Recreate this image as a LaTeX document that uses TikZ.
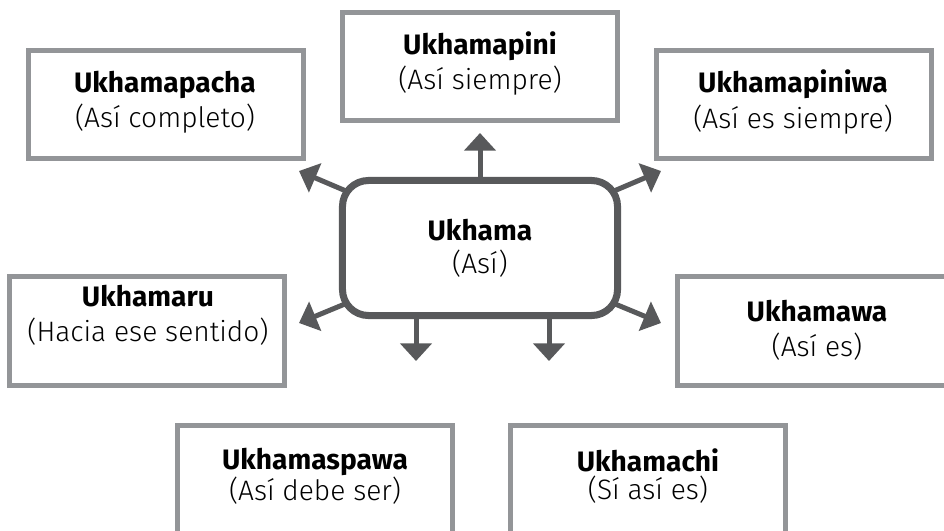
\documentclass[tikz,border=0pt]{standalone}
\usepackage{fontspec}
\setmainfont{Fira Sans}
\newfontfamily\lightfont{Fira Sans Light}
\usetikzlibrary{arrows.meta,backgrounds}
\definecolor{boxgray}{HTML}{939598}
\definecolor{hubgray}{HTML}{58595B}

\begin{document}
\begin{tikzpicture}[x=0.025cm, y=-0.025cm,
    wordbox/.style={draw=boxgray, line width=3.56pt, fill=white,
        minimum width=6.875cm, minimum height=2.7cm, inner sep=0pt},
    hub/.style={draw=hubgray, line width=5pt, fill=white, rounded corners=0.65cm,
        minimum width=6.875cm, minimum height=3.375cm, align=center,
        font=\fontsize{20}{23.5}\selectfont},
    wordtext/.style={align=center, inner sep=0pt, font=\fontsize{20}{25}\selectfont},
    lowtext/.style={wordtext, font=\fontsize{20}{19.5}\selectfont},
    spoke/.style={draw=hubgray, line width=3.56pt,
        -{Triangle[length=12.5pt, width=22pt]}}]

    \useasboundingbox (0,0) rectangle (944,531);
    \clip (0,0) rectangle (944,531);

    % Outer boxes
    \node[wordbox] (pacha) at (166,104.5) {};
    \node[wordbox] (pini) at (480,66.5) {};
    \node[wordbox] (piniwa) at (794,104.5) {};
    \node[wordbox] (maru) at (147,331) {};
    \node[wordbox] (mawa) at (815,331) {};
    \node[wordbox] (spawa) at (315,479.5) {};
    \node[wordbox] (machi) at (648,479.5) {};

    % Words and meanings
    \node[wordtext] (pacha-t) at (165,102) {\textbf{Ukhamapacha}\\{\lightfont (Así completo)}};
    \node[wordtext] (pini-t) at (480,63.5) {\textbf{Ukhamapini}\\{\lightfont (Así siempre)}};
    \node[wordtext] (piniwa-t) at (793,102) {\textbf{Ukhamapiniwa}\\{\lightfont (Así es siempre)}};
    \node[wordtext] (maru-t) at (148,315) {\textbf{Ukhamaru}\\{\lightfont (Hacia ese sentido)}};
    \node[wordtext] (mawa-t) at (817,330.5) {\textbf{Ukhamawa}\\{\lightfont (Así es)}};
    \node[lowtext] (spawa-t) at (315,476) {\textbf{Ukhamaspawa}\\{\lightfont (Así debe ser)}};
    \node[lowtext] (machi-t) at (648,476) {\textbf{Ukhamachi}\\{\lightfont (Sí así es)}};

    % Central word
    \node[hub] (hub) at (480,248) {\textbf{Ukhama}\\{\lightfont (Así)}};

    % Arrow ends
    \coordinate (tipN) at (480,133);
    \coordinate (tipNW) at (299,171);
    \coordinate (tipNE) at (661,171);
    \coordinate (tipSW) at (299,323);
    \coordinate (tipSE) at (661,323);
    \coordinate (tipS1) at (416,361);
    \coordinate (tipS2) at (549,361);

    % Arrows start behind the central box
    \begin{scope}[on background layer]
        \draw[spoke] (hub.center) -- (tipN);
        \draw[spoke] (hub.center) -- (tipNW);
        \draw[spoke] (hub.center) -- (tipNE);
        \draw[spoke] (hub.center) -- (tipSW);
        \draw[spoke] (hub.center) -- (tipSE);
        \draw[spoke] (hub.center -| tipS1) -- (tipS1);
        \draw[spoke] (hub.center -| tipS2) -- (tipS2);
    \end{scope}

\end{tikzpicture}
\end{document}
